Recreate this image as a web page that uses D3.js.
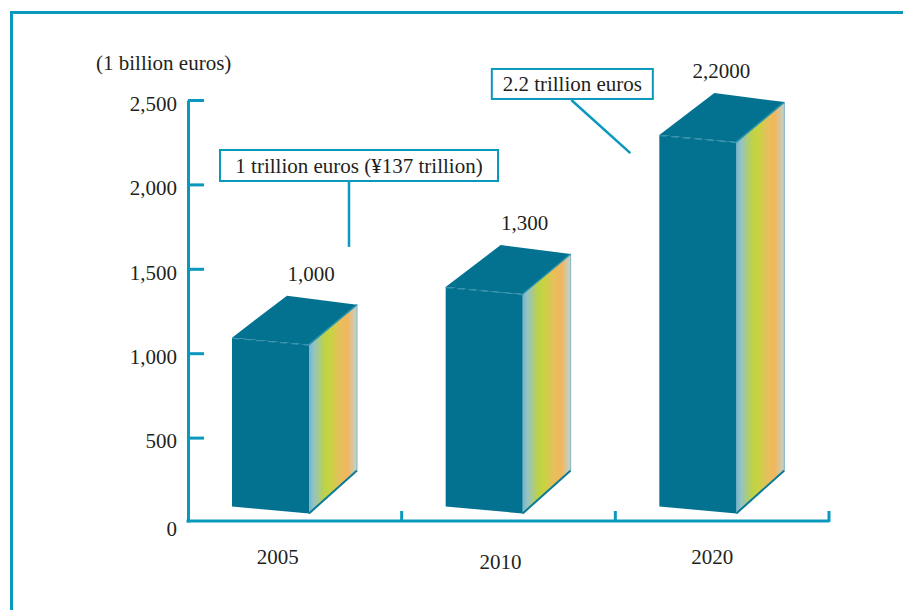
<!DOCTYPE html>
<html>
<head>
<meta charset="utf-8">
<script src="https://cdn.jsdelivr.net/npm/d3@7"></script>
</head>
<body style="margin:0;background:#fff">
<svg width="903" height="610" font-family="'Liberation Serif', 'Times New Roman', serif"></svg>
<script>
var years = ["2005", "2010", "2020"];
var values = [1000, 1300, 2200];
var valueLabels = ["1,000", "1,300", "2,2000"];
var yTicks = [0, 500, 1000, 1500, 2000, 2500];
var callouts = ["1 trillion euros (\u00a5137 trillion)", "2.2 trillion euros"];

var serif = "'Liberation Serif', 'Times New Roman', serif";
var svg = d3.select("svg"),
    teal = "#0a98bd",
    ink = "#231f20",
    fs = 21,
    barColor = "#037290";

// outer frame (top + left only)
svg.append("path")
    .attr("d", "M11.5,610V12.5H903")
    .attr("fill", "none")
    .attr("stroke", teal)
    .attr("stroke-width", 3);

var x = d3.scaleBand().domain(years).range([188, 829]).paddingInner(0).paddingOuter(0),
    y = d3.scaleLinear().domain([0, 2500]).range([522, 100]);

// gradient for the side faces
var grad = svg.append("defs").append("linearGradient")
    .attr("id", "side")
    .attr("x1", "0%").attr("x2", "100%").attr("y1", "0%").attr("y2", "0%");
[["0%", "#73b6cb"], ["10%", "#94c3c4"], ["32%", "#bcd24a"], ["45%", "#c8d341"],
 ["62%", "#e2c25a"], ["80%", "#f2b65d"], ["100%", "#bfd3cf"]].forEach(function(s) {
  grad.append("stop").attr("offset", s[0]).attr("stop-color", s[1]);
});

// y axis
var yAxis = svg.append("g")
    .attr("transform", "translate(188,0)")
    .call(d3.axisLeft(y).tickValues(yTicks).tickFormat(d3.format(",")).tickSize(-16).tickSizeOuter(0).tickPadding(11))
    .attr("font-family", serif);
yAxis.select(".domain").attr("stroke", teal).attr("stroke-width", 3);
yAxis.selectAll(".tick line").attr("stroke", teal).attr("stroke-width", 3);
yAxis.selectAll(".tick text")
    .attr("font-size", fs)
    .attr("fill", ink)
    .attr("dy", function(d) { return d === 0 ? "0.63em" : "0.49em"; });
yAxis.selectAll(".tick").filter(function(d) { return d === 0; }).select("line").remove();

svg.append("text")
    .attr("x", 96).attr("y", 70)
    .attr("font-size", fs)
    .attr("fill", ink)
    .text("(1 billion euros)");

// x axis
var xAxis = svg.append("g")
    .attr("transform", "translate(0,521)")
    .call(d3.axisBottom(x).tickSize(0).tickSizeOuter(0).tickPadding(28))
    .attr("font-family", serif);
xAxis.select(".domain").attr("stroke", teal).attr("stroke-width", 3).attr("d", "M186.5,0H829");
xAxis.selectAll(".tick text")
    .attr("font-size", fs)
    .attr("fill", ink)
    .attr("dx", function(d, i) { return [-17, -8, -10][i]; })
    .attr("dy", function(d, i) { return i === 1 ? "0.95em" : "0.71em"; });

svg.append("g").selectAll("line")
  .data(years)
  .enter().append("line")
    .attr("x1", function(d) { return x(d) + x.bandwidth(); })
    .attr("x2", function(d) { return x(d) + x.bandwidth(); })
    .attr("y1", 522).attr("y2", 511)
    .attr("stroke", teal).attr("stroke-width", 3);

// 3d bars
var base = 92, off = 44, w = 77, slant = 7;
var bars = svg.append("g").selectAll("g")
  .data(years.map(function(d, i) { return {year: d, value: values[i], label: valueLabels[i]}; }))
  .enter().append("g");

function pts(a) { return a.map(function(p) { return p.join(","); }).join(" "); }

bars.each(function(d) {
  var g = d3.select(this),
      x0 = x(d.year) + off, x1 = x0 + w,
      top = y(base + d.value), bot = y(base);
  // side face
  g.append("polygon")
      .attr("points", pts([[x1, top + slant], [x1 + 48, top - 33], [x1 + 48, bot - 36], [x1, bot + slant]]))
      .attr("fill", "url(#side)");
  g.append("line")
      .attr("x1", x1).attr("y1", bot + slant).attr("x2", x1 + 48).attr("y2", bot - 36)
      .attr("stroke", "#0b7a98").attr("stroke-width", 2);
  g.append("line")
      .attr("x1", x1 + 48).attr("y1", top - 33).attr("x2", x1 + 48).attr("y2", bot - 36)
      .attr("stroke", "#7fb4c2").attr("stroke-width", 1);
  // top face
  g.append("polygon")
      .attr("points", pts([[x0, top], [x0 + 55, top - 42], [x1 + 48, top - 33], [x1, top + slant]]))
      .attr("fill", barColor);
  g.append("line")
      .attr("x1", x1).attr("y1", top + slant).attr("x2", x1 + 48).attr("y2", top - 33)
      .attr("stroke", "#2a93ad").attr("stroke-width", 1.5);
  // front face
  g.append("polygon")
      .attr("points", pts([[x0, top], [x1, top + slant], [x1, bot + slant], [x0, bot]]))
      .attr("fill", barColor);
  g.append("line")
      .attr("x1", x0).attr("y1", top + 0.5).attr("x2", x1).attr("y2", top + slant + 0.5)
      .attr("stroke", "#3c94ad").attr("stroke-width", 1.2)
      .attr("stroke-dasharray", "7,5");
  // value label
  g.append("text")
      .attr("x", x0 + (d.year === "2020" ? 62 : 79))
      .attr("y", top - 57)
      .attr("text-anchor", "middle")
      .attr("font-size", fs)
      .attr("fill", ink)
      .text(d.label);
});

// callouts
function callout(cx, cy, bw, bh, txt, lx1, ly1, lx2, ly2) {
  var g = svg.append("g");
  g.append("line")
      .attr("x1", lx1).attr("y1", ly1).attr("x2", lx2).attr("y2", ly2)
      .attr("stroke", teal).attr("stroke-width", 2.5);
  g.append("rect")
      .attr("x", cx - bw / 2).attr("y", cy - bh / 2)
      .attr("width", bw).attr("height", bh)
      .attr("fill", "#fff").attr("stroke", teal).attr("stroke-width", 2);
  g.append("text")
      .attr("x", cx).attr("y", cy + 7.5)
      .attr("text-anchor", "middle")
      .attr("font-size", fs)
      .attr("fill", ink)
      .text(txt);
}
var b0 = x(years[0]), b2 = x(years[2]);
callout(b0 + 171, y(2112), 278, 31, callouts[0], b0 + 161, y(2020), b0 + 161, y(1630));
callout(b2 - 43, y(2595), 161, 30, callouts[1], b2 - 44, y(2500), b2 + 15, y(2185));
</script>
</body>
</html>
